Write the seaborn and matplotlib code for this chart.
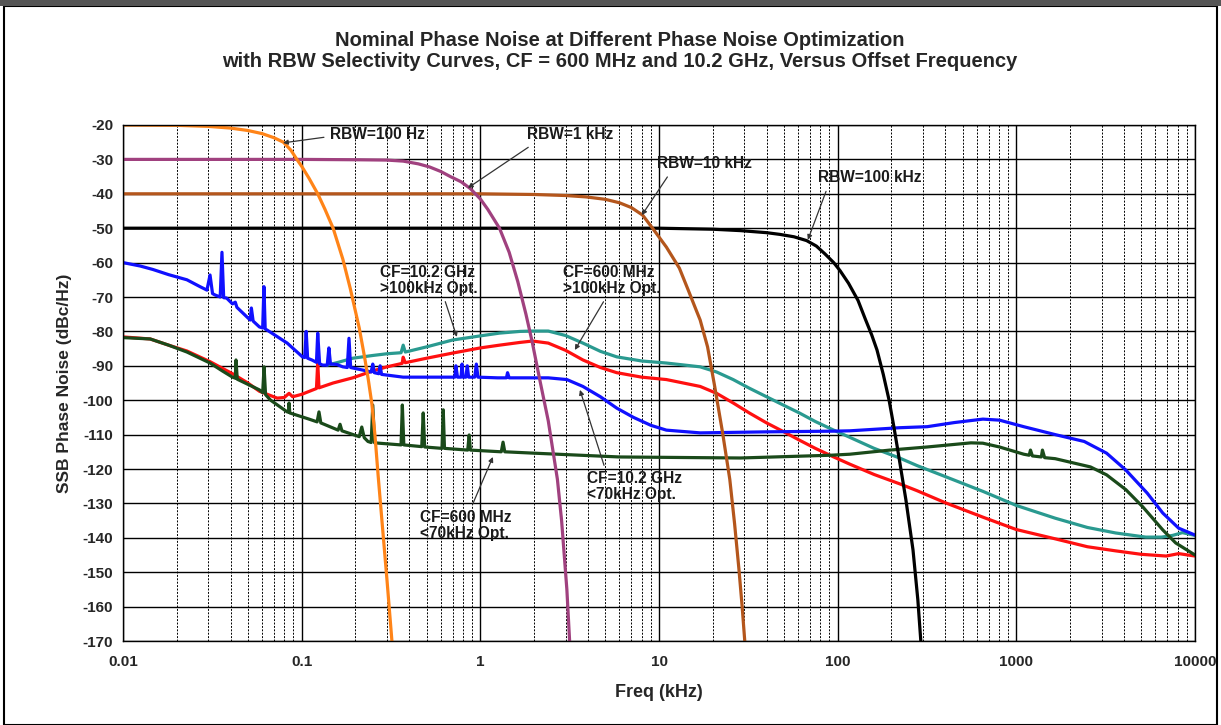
import numpy as np
import pandas as pd
import matplotlib
matplotlib.use("Agg")
import matplotlib.pyplot as plt
import matplotlib.ticker as mticker
from matplotlib.patches import Rectangle
import seaborn as sns

# ---------------- data ----------------
# RBW selectivity curves: offset freq (kHz) and level (dBc/Hz)
rbw100hz_f = [0.01, 0.02, 0.03, 0.04, 0.05, 0.06, 0.07, 0.079, 0.087, 0.094, 0.10, 0.11,
              0.123, 0.135, 0.15, 0.17, 0.187, 0.21, 0.225, 0.236, 0.247, 0.257, 0.268,
              0.284, 0.30, 0.32]
rbw100hz_db = [-20, -20.1, -20.4, -20.9, -21.6, -22.5, -23.7, -25, -27.3, -30, -32, -35.5,
               -40, -44.5, -50, -59, -67.5, -79, -87.5, -94, -101, -110, -122,
               -137.5, -152, -170]

rbw1k_f = [0.01, 0.1, 0.2, 0.30, 0.37, 0.45, 0.52, 0.6, 0.68, 0.78, 0.88, 1.0, 1.1,
           1.28, 1.45, 1.62, 1.8, 1.95, 2.15, 2.4, 2.7, 2.85, 3.05, 3.16]
rbw1k_db = [-30, -30, -30.1, -30.2, -30.5, -31.3, -32.2, -33.5, -35, -36.5, -38.5, -41.5, -44.5,
            -50, -57, -65.5, -75, -83, -94, -106, -123, -135, -155, -170]

rbw10k_f = [0.01, 1, 2, 3, 3.9, 5, 6, 7, 8.1, 9.2, 11, 13, 14.5, 16.2, 17, 18.7, 20.5,
            22.7, 24.9, 26.5, 28, 29.2, 30.2]
rbw10k_db = [-40, -40, -40.2, -40.5, -40.9, -41.6, -42.6, -44, -46.2, -50, -55.5, -61.6, -67.7,
             -74, -76.7, -84.5, -96, -109.5, -123, -136, -149, -160, -170]

rbw100k_f = [0.01, 10, 20, 28.5, 40, 47.5, 57, 67, 76, 85, 95, 103, 115, 130, 143, 155,
             166, 180, 194, 206, 217, 241, 264, 281, 292]
rbw100k_db = [-50, -50, -50.3, -50.7, -51.3, -51.8, -52.5, -53.6, -55.2, -57.5, -60, -62.3, -66,
              -71, -76.5, -81, -85.4, -92.5, -100, -107.5, -114.5, -129, -143.5, -158, -170]

# CF = 10.2 GHz, <70 kHz optimisation (blue)
cf10g_lo_f = [0.010, 0.0125, 0.0147, 0.018, 0.0228, 0.027, 0.0295, 0.0307, 0.0317, 0.0327,
              0.0350, 0.0358, 0.0366, 0.038, 0.041, 0.0425, 0.0434, 0.0515, 0.0523, 0.0535,
              0.058, 0.0605, 0.0615, 0.0625, 0.064, 0.083, 0.101, 0.104, 0.106, 0.108,
              0.114, 0.121, 0.123, 0.126, 0.131, 0.139, 0.142, 0.145, 0.157, 0.170,
              0.180, 0.184, 0.188, 0.200, 0.232, 0.245, 0.25, 0.255, 0.27, 0.275,
              0.28, 0.37, 0.70, 0.72, 0.73, 0.745, 0.78, 0.79, 0.80, 0.83,
              0.845, 0.86, 0.93, 0.95, 0.97, 1.25, 1.40, 1.42, 1.45, 1.67,
              2.4, 3.05, 3.75, 4.7, 5.8, 7.2, 9, 11, 17, 40,
              95, 117, 222, 317, 450, 650, 805, 1100, 1650, 2400,
              3200, 4100, 5400, 6600, 8100, 10000]
cf10g_lo_db = [-60, -61, -62, -63.5, -65, -67, -68, -63.6, -69, -69.4,
               -70, -57, -70.2, -70.3, -72, -71.5, -73, -76.7, -73.2, -77,
               -78.7, -79, -67, -79.3, -79.6, -83.4, -87.4, -87.6, -80, -87.8,
               -88.3, -89, -80.5, -89.4, -89.8, -89.8, -84.8, -89.5, -89.6, -90.3,
               -90.5, -82, -90.5, -90.8, -91.5, -91.8, -89.5, -92, -92.3, -90,
               -92.5, -93.3, -93.3, -93.3, -90, -93.3, -93.3, -89.5, -93.3, -93.3,
               -90, -93.3, -93.3, -89.5, -93.3, -93.5, -93.5, -92, -93.5, -93.5,
               -93.5, -94, -96, -99, -102.3, -105, -107.3, -108.7, -109.5, -109.2,
               -109, -108.9, -108, -107.7, -106.5, -105.5, -105.8, -107.7, -110, -112,
               -115.4, -120.3, -127, -132.8, -137.2, -139.2]

# CF = 10.2 GHz, >100 kHz optimisation (teal), visible after it leaves the blue trace
cf10g_hi_f = [0.139, 0.16, 0.193, 0.25, 0.30, 0.36, 0.37, 0.38, 0.50, 0.70,
              1.0, 1.28, 1.67, 1.96, 2.4, 3.0, 3.75, 4.7, 5.8, 8,
              11, 17, 21, 26, 32, 40, 50, 61, 75, 95,
              117, 160, 222, 278, 400, 650, 1000, 1650, 2500, 3600,
              5300, 6500, 7500, 8500, 10000]
cf10g_hi_db = [-89.8, -89, -87.8, -87, -86.5, -86.2, -84, -86, -84.5, -82.5,
               -81.3, -80.5, -80, -79.9, -79.9, -81.2, -83.4, -85.8, -87.4, -88.6,
               -89.2, -90.3, -91.8, -94, -96.5, -99, -101.5, -103.7, -106.2, -108.7,
               -110.8, -114, -116.8, -119, -122.2, -126.5, -130.6, -134.3, -137, -138.6,
               -139.8, -139.8, -139.3, -138.5, -139.3]

# CF = 600 MHz, >100 kHz optimisation (red)
cf600m_hi_f = [0.010, 0.0142, 0.018, 0.0228, 0.0307, 0.041, 0.05, 0.058, 0.073, 0.080,
               0.085, 0.089, 0.10, 0.121, 0.123, 0.125, 0.15, 0.193, 0.25, 0.30,
               0.365, 0.37, 0.38, 0.50, 0.70, 1.0, 1.28, 1.67, 1.96, 2.4,
               3.0, 3.75, 4.7, 5.8, 8, 11, 17, 21, 26, 32,
               40, 50, 61, 75, 95, 117, 160, 222, 278, 400,
               650, 1000, 1650, 2500, 3600, 5000, 6900, 8100, 10000]
cf600m_hi_db = [-81.6, -82.2, -84, -85.7, -88.8, -92.3, -95, -97.4, -99.4, -99.2,
                -98, -99, -98.3, -96.6, -89, -96.4, -95, -93.5, -91.5, -90.3,
                -89.3, -87.5, -89.1, -87.8, -86.3, -84.8, -84, -83.2, -82.8, -83.4,
                -85.5, -88.3, -90.5, -92, -93.3, -94, -96, -98, -100.8, -103.7,
                -106.6, -109.2, -111.6, -114, -116.5, -118.6, -121.6, -124.3, -126.3, -129.8,
                -134, -137.6, -140.3, -142.6, -143.8, -144.8, -145.3, -144.6, -145.3]

# CF = 600 MHz, <70 kHz optimisation (dark green)
cf600m_lo_f = [0.010, 0.0142, 0.018, 0.0228, 0.0307, 0.036, 0.041, 0.0425, 0.0429, 0.0436,
               0.058, 0.0605, 0.0616, 0.0628, 0.067, 0.083, 0.0845, 0.085, 0.0858, 0.11,
               0.122, 0.125, 0.128, 0.160, 0.164, 0.168, 0.210, 0.217, 0.224, 0.235,
               0.245, 0.25, 0.256, 0.36, 0.366, 0.373, 0.47, 0.479, 0.488, 0.61,
               0.62, 0.63, 0.85, 0.866, 0.88, 1.31, 1.34, 1.37, 2, 6,
               28.5, 91, 117, 196, 317, 557, 650, 805, 1100, 1180,
               1200, 1230, 1380, 1400, 1440, 1650, 2600, 3200, 4100, 5100,
               6600, 7800, 10000]
cf600m_lo_db = [-81.8, -82.2, -84, -86, -89.2, -91.5, -93.3, -93.6, -88.3, -93.9,
                -97, -97.8, -90.3, -98.4, -100, -103.4, -103.5, -100.8, -103.7, -105.5,
                -106.3, -103.4, -106.6, -108.7, -107, -108.9, -110.6, -107.8, -110.9, -112,
                -112.3, -101.4, -112.4, -113, -101.4, -113, -113.5, -103.7, -113.6, -114,
                -102.8, -114, -114.5, -110.1, -114.5, -115, -112.2, -115, -115.4, -116.5,
                -116.8, -116, -115.7, -114.5, -113.6, -112.4, -112.5, -113.6, -115.7, -116,
                -114.5, -116.2, -116.5, -114.5, -116.7, -117, -119.4, -121.7, -126, -131,
                -137.7, -141.5, -145]

x_ticks = [0.01, 0.1, 1, 10, 100, 1000, 10000]
x_tick_labels = ["0.01", "0.1", "1", "10", "100", "1000", "10000"]
y_ticks = list(range(-170, -19, 10))

series_names = ["CF=10.2 GHz >100kHz", "CF=600 MHz >100kHz", "CF=10.2 GHz <70kHz", "CF=600 MHz <70kHz",
                "RBW=100 kHz", "RBW=10 kHz", "RBW=1 kHz", "RBW=100 Hz"]
series_f = [cf10g_hi_f, cf600m_hi_f, cf10g_lo_f, cf600m_lo_f, rbw100k_f, rbw10k_f, rbw1k_f, rbw100hz_f]
series_db = [cf10g_hi_db, cf600m_hi_db, cf10g_lo_db, cf600m_lo_db, rbw100k_db, rbw10k_db, rbw1k_db, rbw100hz_db]
series_colors = ["#2a9a90", "#ff1010", "#1010ff", "#1a4a1a", "#000000", "#b4561c", "#a0417f", "#ff8418"]

frames = []
for name, f, d in zip(series_names, series_f, series_db):
    frames.append(pd.DataFrame({"freq": f, "level": d, "series": name}))
df = pd.concat(frames, ignore_index=True)

# ---------------- figure ----------------
sns.set_theme(style="white")
plt.rcParams["font.family"] = ["Liberation Sans", "DejaVu Sans"]
plt.rcParams["axes.unicode_minus"] = False

fig = plt.figure(figsize=(12.21, 7.25), dpi=100)
ax = fig.add_axes([123 / 1221, 1 - 641 / 725, (1195 - 123) / 1221, (641 - 125) / 725])

sns.lineplot(data=df, x="freq", y="level", hue="series", hue_order=series_names,
             palette=dict(zip(series_names, series_colors)), estimator=None, sort=False,
             linewidth=2.3, legend=False, ax=ax)
for ln in ax.get_lines():
    ln.set_solid_joinstyle("round")

ax.set_xscale("log")
ax.set_xlim(0.01, 10000)
ax.set_ylim(-170, -20)
ax.set_xticks(x_ticks)
ax.xaxis.set_major_formatter(mticker.FixedFormatter(x_tick_labels))
ax.xaxis.set_minor_locator(mticker.LogLocator(base=10, subs=np.arange(2, 10)))
ax.xaxis.set_minor_formatter(mticker.NullFormatter())
ax.set_yticks(y_ticks)

ax.grid(which="major", axis="both", color="black", linewidth=1.0, zorder=0)
ax.grid(which="minor", axis="x", color="black", linewidth=0.7, linestyle=(0, (2, 1.5)), zorder=0)
ax.set_axisbelow(True)
for s in ax.spines.values():
    s.set_color("black")
    s.set_linewidth(1.0)

ax.tick_params(axis="y", which="major", direction="inout", length=8, width=1, color="black",
               labelsize=11, pad=3)
ax.tick_params(axis="x", which="major", direction="inout", length=6, width=1, color="black",
               labelsize=11, pad=7)
ax.tick_params(axis="x", which="minor", length=0)
for lab in ax.get_xticklabels() + ax.get_yticklabels():
    lab.set_fontweight("bold")

ax.set_xlabel("Freq (kHz)", fontsize=13, fontweight="bold", labelpad=11)
ax.set_ylabel("SSB Phase Noise (dBc/Hz)", fontsize=12.5, fontweight="bold", labelpad=8)

fig.text(620 / 1221, 1 - 51 / 725,
         "Nominal Phase Noise at Different Phase Noise Optimization\n"
         "with RBW Selectivity Curves, CF = 600 MHz and 10.2 GHz, Versus Offset Frequency",
         ha="center", va="center", fontsize=14.5, fontweight="bold", linespacing=1.1)

# annotations
arrow = dict(arrowstyle="-|>", color="#333333", lw=0.9, mutation_scale=7, shrinkA=2, shrinkB=0)
ann = [
    ("RBW=100 Hz", (0.0786, -25.2), (0.144, -22.9), (0, 0.4)),
    ("RBW=1 kHz", (0.852, -38.3), (1.82, -22.9), (0.1, 0.0)),
    ("RBW=10 kHz", (8.02, -46.2), (9.73, -31.3), (0.15, 0.0)),
    ("RBW=100 kHz", (68.1, -53.4), (77.5, -35.4), (0.1, 0.0)),
    ("CF=10.2 GHz\n>100kHz Opt.", (0.739, -81.6), (0.274, -65.1), (0.65, 0.0)),
    ("CF=600 MHz\n>100kHz Opt.", (3.38, -85.4), (2.90, -65.2), (0.45, 0.0)),
    ("CF=10.2 GHz\n<70kHz Opt.", (3.61, -97.0), (3.95, -125.2), (0.2, 1.0)),
    ("CF=600 MHz\n<70kHz Opt.", (1.176, -116.5), (0.459, -136.4), (0.55, 1.0)),
]
for txt, xy, xytext, rp in ann:
    ap = dict(arrow)
    ap["relpos"] = rp
    ax.annotate(txt, xy=xy, xytext=xytext, textcoords="data", ha="left", va="center",
                fontsize=11.2, fontweight="bold", color="#1a1a1a", arrowprops=ap,
                multialignment="left", linespacing=1.1, zorder=10)

# frame and top bar like the reference screenshot
fig.patches.append(Rectangle((4 / 1221, 0), 1213 / 1221, 1 - 6 / 725, transform=fig.transFigure,
                             fill=False, edgecolor="black", linewidth=1.5))
fig.patches.append(Rectangle((0, 1 - 6 / 725), 1, 6 / 725, transform=fig.transFigure,
                             facecolor="#555555", edgecolor="none"))

fig.savefig("out.png", dpi=100)
